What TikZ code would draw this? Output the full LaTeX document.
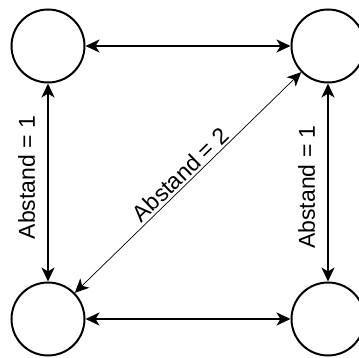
\documentclass[tikz,border=0pt]{standalone}
\usepackage{fontspec}
\setmainfont{Liberation Sans}
\usetikzlibrary{positioning, quotes, arrows.meta}

\begin{document}
\begin{tikzpicture}[x=1pt, y=1pt,
                    every node/.style = {circle, draw, line width=2pt, minimum size=73pt, inner sep=0pt},
                    every edge/.style = {draw, line width=2pt, {Stealth[length=14pt, width=13pt, inset=4pt]}-{Stealth[length=14pt, width=13pt, inset=4pt]}},
                    every edge quotes/.style = {sloped, above, pos=0.5, draw=none, circle=false, rectangle,
                                                minimum size=0pt, inner sep=12pt, font=\fontsize{23}{27}\selectfont}]
    \useasboundingbox (0,0) rectangle (359,-358);
    \begin{scope}[node distance=198pt and 205pt]
        \node (tl) at (48,-46) {};
        \node (tr) [right = of tl] {};
        \node (bl) [below = of tl] {};
        \node (br) [right = of bl] {};

        % horizontal neighbours
        \draw (tl) edge (tr);
        \draw (bl) edge (br);

        % vertical neighbours
        \draw (bl) edge["Abstand = 1" {pos=0.525}] (tl);
        \draw (br) edge["Abstand = 1" {pos=0.477}] (tr);

        % diagonal
        \draw (bl) edge[line width=0.7pt, "Abstand = 2" {inner sep=1.5pt, pos=0.5}] (tr);
    \end{scope}
\end{tikzpicture}
\end{document}
